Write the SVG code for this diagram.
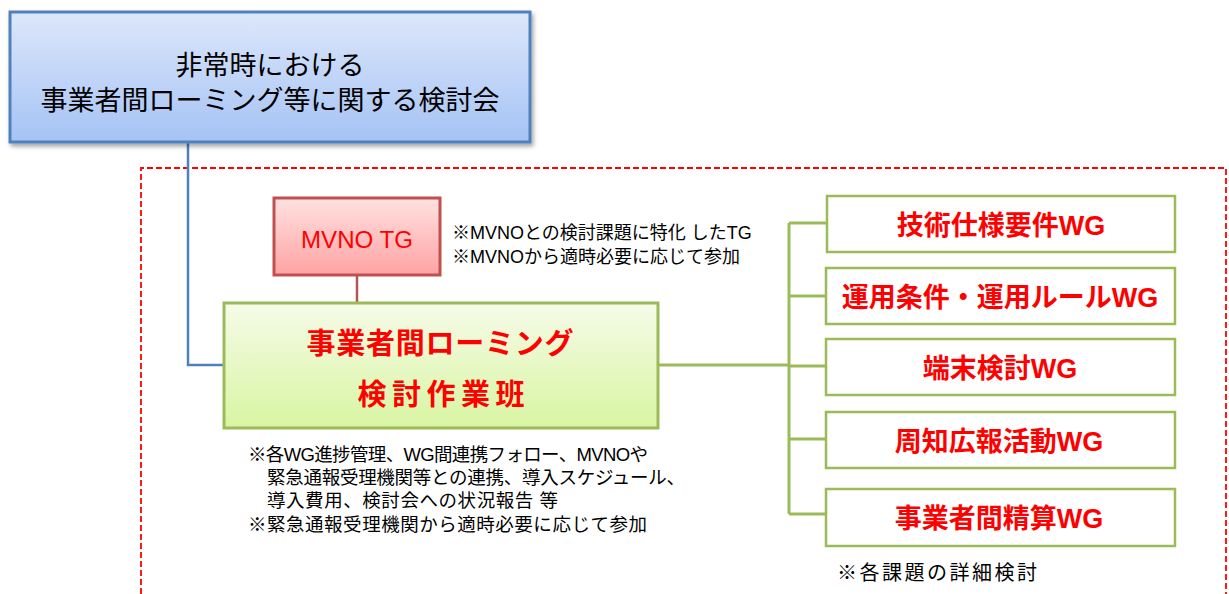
<svg xmlns="http://www.w3.org/2000/svg" width="1229" height="594" viewBox="0 0 1229 594">
<defs>
<linearGradient id="gBlue" x1="0" y1="0" x2="0" y2="1"><stop offset="0" stop-color="#dde7fa"/><stop offset="1" stop-color="#a5c3f5"/></linearGradient>
<linearGradient id="gRed" x1="0" y1="0" x2="0" y2="1"><stop offset="0" stop-color="#ffe1e1"/><stop offset="1" stop-color="#ffa3a3"/></linearGradient>
<linearGradient id="gGreen" x1="0" y1="0" x2="0" y2="1"><stop offset="0" stop-color="#f6fbe8"/><stop offset="1" stop-color="#d8f5a2"/></linearGradient>
<filter id="sh" x="-5%" y="-5%" width="110%" height="120%"><feDropShadow dx="2" dy="3" stdDeviation="2" flood-color="#000" flood-opacity="0.35"/></filter>
<style>
text{font-family:"Liberation Sans","Noto Sans CJK JP",sans-serif;}
.t{fill:#000;text-anchor:middle;font-size:27px;}
.r{fill:#ff0000;font-weight:bold;text-anchor:middle;}
.n{fill:#000;font-size:18px;}
.m{fill:#000;font-size:18.5px;}
.wg{fill:#fff;stroke:#9bbb59;stroke-width:2.5;}
.cg{stroke:#9bbb59;stroke-width:3;fill:none;}
</style>
</defs>
<rect width="1229" height="594" fill="#fff"/>
<path d="M141,594 V168 H1226 V594" fill="none" stroke="#ff0000" stroke-width="1.8" stroke-dasharray="6,3"/>
<g id="connectors">
<path d="M188,142 V365 H224" fill="none" stroke="#4f81bd" stroke-width="2.5"/>
<path d="M357,275 V303" fill="none" stroke="#b85450" stroke-width="2.5"/>
<path d="M658,365 H789" class="cg"/>
<path d="M789,223 V514" class="cg"/>
<path d="M789,223 H827 M789,296 H826 M789,366 H826 M789,439 H826 M789,514 H826" class="cg"/>
</g>
<g id="top">
<rect x="10" y="12" width="520" height="130" fill="url(#gBlue)" stroke="#4f81bd" stroke-width="3" filter="url(#sh)"/>
<text class="t" x="270" y="75">非常時における</text>
<text class="t" x="270" y="110">事業者間ローミング等に関する検討会</text>
</g>
<g id="mvno">
<rect x="274" y="198" width="166" height="77" fill="url(#gRed)" stroke="#c0504d" stroke-width="3"/>
<text x="357" y="248" fill="#ff0000" font-size="23" text-anchor="middle" textLength="112" lengthAdjust="spacingAndGlyphs">MVNO TG</text>
</g>
<g id="mvno-note">
<text class="n" x="452" y="239">※MVNOとの検討課題に特化 したTG</text>
<text class="n" x="452" y="263">※MVNOから適時必要に応じて参加</text>
</g>
<g id="main">
<rect x="224" y="303" width="434" height="125" fill="url(#gGreen)" stroke="#9bbb59" stroke-width="3"/>
<text class="r" x="440" y="354" font-size="29" textLength="267" lengthAdjust="spacing">事業者間ローミング</text>
<text class="r" x="441" y="405" font-size="29" textLength="167" lengthAdjust="spacing">検討作業班</text>
</g>
<g id="main-note">
<text class="m" x="248" y="461" textLength="400" lengthAdjust="spacing">※各WG進捗管理、WG間連携フォロー、MVNOや</text>
<text class="m" x="267" y="484" textLength="418" lengthAdjust="spacing">緊急通報受理機関等との連携、導入スケジュール、</text>
<text class="m" x="267" y="507" textLength="291" lengthAdjust="spacing">導入費用、検討会への状況報告 等</text>
<text class="m" x="248" y="531" textLength="399" lengthAdjust="spacing">※緊急通報受理機関から適時必要に応じて参加</text>
</g>
<g id="wg1">
<rect class="wg" x="827" y="196" width="348" height="56"/>
<text class="r" x="1001" y="235" font-size="27">技術仕様要件WG</text>
</g>
<g id="wg2">
<rect class="wg" x="826" y="268" width="349" height="56"/>
<text class="r" x="1000" y="307" font-size="27">運用条件・運用ルールWG</text>
</g>
<g id="wg3">
<rect class="wg" x="826" y="339" width="349" height="56"/>
<text class="r" x="1000" y="378" font-size="27">端末検討WG</text>
</g>
<g id="wg4">
<rect class="wg" x="826" y="412" width="349" height="56"/>
<text class="r" x="999" y="451" font-size="27">周知広報活動WG</text>
</g>
<g id="wg5">
<rect class="wg" x="826" y="489" width="349" height="57"/>
<text class="r" x="999" y="528" font-size="27">事業者間精算WG</text>
</g>
<g id="wg-note">
<text x="837" y="580" font-size="20" fill="#000" letter-spacing="2.5">※各課題の詳細検討</text>
</g>
</svg>
